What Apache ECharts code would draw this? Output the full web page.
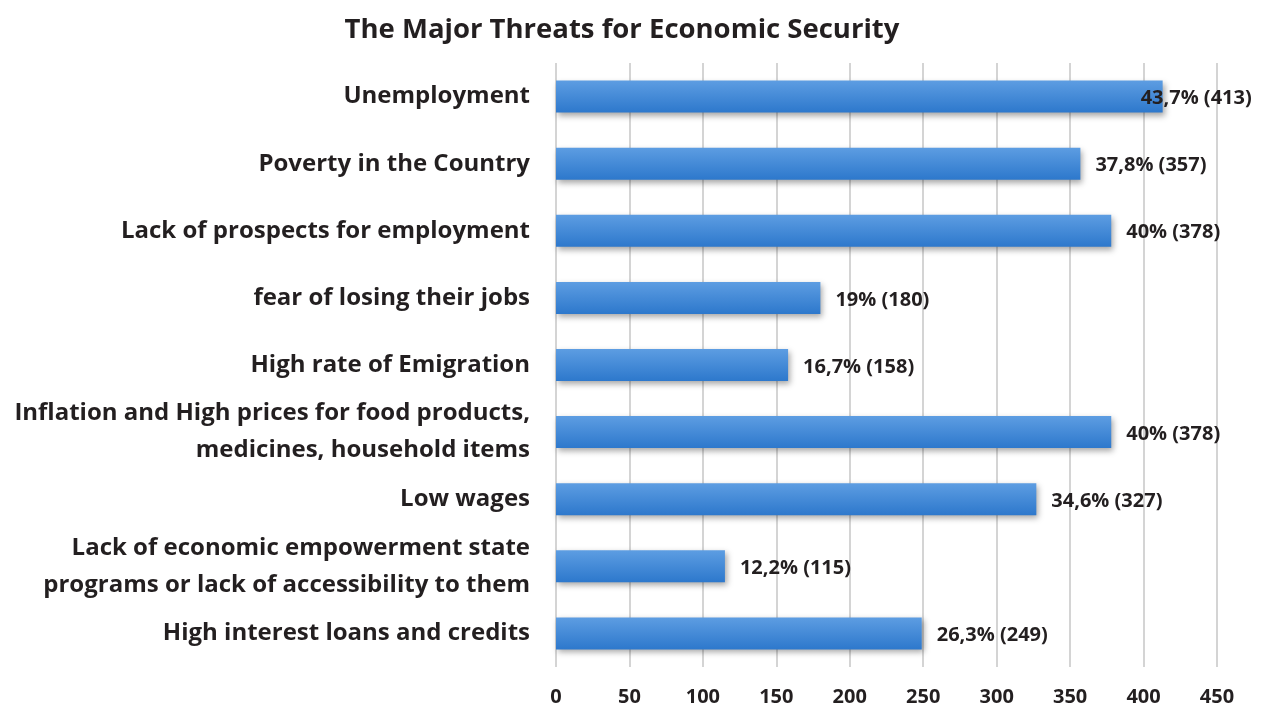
<!DOCTYPE html>
<html>
<head>
<meta charset="utf-8">
<script src="https://cdn.jsdelivr.net/npm/echarts@6/dist/echarts.min.js"></script>
<style>
  html, body { margin: 0; padding: 0; background: #fff; }
  #main { width: 1265px; height: 707px; }
</style>
</head>
<body>
<div id="main"></div>
<script>
var categories = [
  'Unemployment',
  'Poverty in the Country',
  'Lack of prospects for employment',
  'fear of losing their jobs',
  'High rate of Emigration',
  'Inflation and High prices for food products,\nmedicines, household items',
  'Low wages',
  'Lack of economic empowerment state\nprograms or lack of accessibility to them',
  'High interest loans and credits'
];
var counts = [413, 357, 378, 180, 158, 378, 327, 115, 249];
var percents = ['43,7%', '37,8%', '40%', '19%', '16,7%', '40%', '34,6%', '12,2%', '26,3%'];
var xTicks = [0, 50, 100, 150, 200, 250, 300, 350, 400, 450];

var chart = echarts.init(document.getElementById('main'));

var fontFam = '"Open Sans", Lato, sans-serif';

var option = {
  backgroundColor: '#ffffff',
  title: {
    text: 'The Major Threats for Economic Security',
    left: 617,
    textAlign: 'center',
    top: 11,
    textStyle: { fontFamily: fontFam, fontSize: 27.5, fontWeight: 'bold', color: '#231f20' }
  },
  grid: { left: 556, right: 48, top: 63, bottom: 38, containLabel: false },
  xAxis: {
    type: 'value',
    min: xTicks[0],
    max: xTicks[xTicks.length - 1],
    interval: 50,
    axisLine: { show: false },
    axisTick: { show: false },
    splitLine: { show: true, lineStyle: { color: '#d4d4d4', width: 2 } },
    axisLabel: {
      margin: 20,
      fontFamily: fontFam, fontSize: 20, fontWeight: 'bold', color: '#231f20'
    }
  },
  yAxis: {
    type: 'category',
    inverse: true,
    data: categories,
    axisLine: { show: false },
    axisTick: { show: false },
    axisLabel: {
      margin: 26,
      padding: [10, 0, 0, 0],
      fontFamily: fontFam, fontSize: 24, fontWeight: 'bold', color: '#231f20',
      lineHeight: 37, align: 'right'
    }
  },
  series: [{
    type: 'bar',
    barWidth: 32,
    data: counts.map(function (v, i) {
      var item = { value: v };
      if (i === 0) item.label = { offset: [-37, 2] };
      return item;
    }),
    itemStyle: {
      color: new echarts.graphic.LinearGradient(0, 0, 0, 1, [
        { offset: 0, color: '#5d9de2' },
        { offset: 1, color: '#2d78cc' }
      ]),
      shadowColor: 'rgba(0,0,0,0.35)',
      shadowBlur: 6,
      shadowOffsetX: 2,
      shadowOffsetY: 3
    },
    label: {
      show: true,
      position: 'right',
      distance: 15,
      offset: [0, 2],
      fontFamily: fontFam, fontSize: 20, fontWeight: 'bold', color: '#231f20',
      formatter: function (p) { return percents[p.dataIndex] + ' (' + p.value + ')'; }
    }
  }]
};

chart.setOption(option);
</script>
</body>
</html>
